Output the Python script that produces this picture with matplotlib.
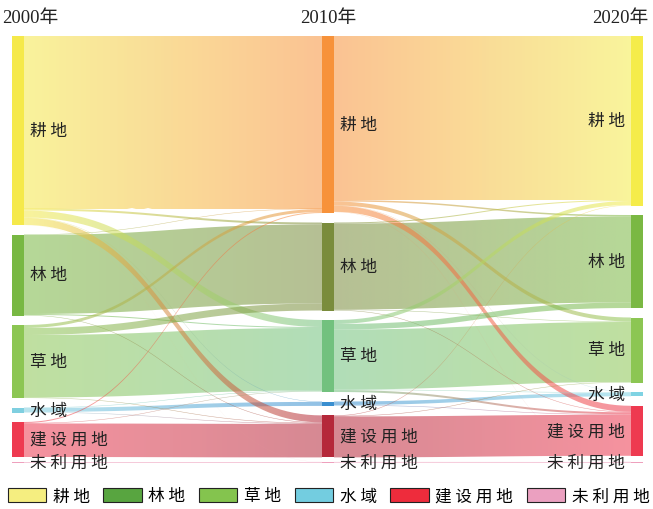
import numpy as np
import matplotlib
matplotlib.use("Agg")
import matplotlib.pyplot as plt
from matplotlib.patches import Polygon, Rectangle
from matplotlib.colors import to_rgb

plt.rcParams['font.family'] = ['Noto Sans CJK SC', 'DejaVu Sans']

years = ["2000年", "2010年", "2020年"]
categories = ["耕地", "林地", "草地", "水域", "建设用地", "未利用地"]

# flows[i][j]: from category i (earlier year) to category j (later year)
flows_2000_2010 = [
    [172.5, 2.0, 7.0, 0.4, 7.0, 0.1],
    [0.5, 79.0, 1.0, 0.0, 0.5, 0.0],
    [3.0, 7.0, 62.5, 0.0, 0.5, 0.0],
    [0.0, 0.0, 0.5, 4.0, 0.5, 0.0],
    [1.0, 0.0, 0.5, 0.0, 33.5, 0.0],
    [0.0, 0.0, 0.0, 0.0, 0.0, 1.0],
]
flows_2010_2020 = [
    [164.0, 1.5, 4.0, 0.3, 6.0, 0.2],
    [1.0, 86.0, 0.5, 0.0, 0.5, 0.0],
    [4.0, 5.5, 60.0, 0.5, 2.0, 0.0],
    [0.0, 0.0, 0.0, 3.5, 0.5, 0.0],
    [0.5, 0.0, 0.5, 0.0, 41.0, 0.0],
    [0.0, 0.0, 0.0, 0.0, 0.0, 1.0],
]

node_colors = [
    ["#f5e94a", "#78b843", "#8cc653", "#7fcfe0", "#ee3a50", "#eea0bd"],
    ["#f7923a", "#7a8c3c", "#72c17e", "#3a8fd0", "#b5283a", "#eea0bd"],
    ["#f5ec4a", "#7ab843", "#8cc653", "#7fd3e3", "#ee3a50", "#eea0bd"],
]
legend_colors = ["#f5ee80", "#58a540", "#84c44e", "#73cde0", "#ee2c3c", "#eba0c0"]

# layout constants (pixel-like axes units)
W, H = 653, 510
col_x = [12, 322, 631]
node_w = 12
top, bottom = 37, 464
gap = 9.5
link_alpha = 0.55

fig = plt.figure(figsize=(W / 100, H / 100), dpi=100)
ax = fig.add_axes([0, 0, 1, 1])
ax.set_xlim(0, W)
ax.set_ylim(H, 0)
ax.axis('off')

F1 = np.array(flows_2000_2010)
F2 = np.array(flows_2010_2020)
totals = [
    F1.sum(axis=1),
    np.maximum(F1.sum(axis=0), F2.sum(axis=1)),
    F2.sum(axis=0),
]

# node positions
node_y = []
for c in range(3):
    ys = []
    y = top
    n = len(categories)
    for i in range(n):
        h = totals[c][i]
        if i == n - 1:
            y = bottom - h
        ys.append((y, y + h))
        y += h + gap
    node_y.append(ys)


def bez(p0, p1, p2, p3, t):
    t = t[:, None]
    return ((1 - t) ** 3) * p0 + 3 * ((1 - t) ** 2) * t * p1 + 3 * (1 - t) * t * t * p2 + t ** 3 * p3


def draw_links(F, c):
    n = len(categories)
    x0 = col_x[c] + node_w
    x1 = col_x[c + 1]
    xm = (x0 + x1) / 2
    out_off = [node_y[c][i][0] for i in range(n)]
    in_off = [node_y[c + 1][j][0] for j in range(n)]
    segs = {}
    for i in range(n):
        for j in range(n):
            v = F[i][j]
            if v <= 0:
                continue
            segs[(i, j)] = [out_off[i], None]
            out_off[i] += v
    for j in range(n):
        for i in range(n):
            v = F[i][j]
            if v <= 0:
                continue
            segs[(i, j)][1] = in_off[j]
            in_off[j] += v
    order = [k for k in segs if k[0] == k[1]] + [k for k in segs if k[0] != k[1]]
    t = np.linspace(0, 1, 60)
    for (i, j) in order:
        v = F[i][j]
        sy, ty = segs[(i, j)]
        topc = bez(np.array([x0, sy]), np.array([xm, sy]), np.array([xm, ty]), np.array([x1, ty]), t)
        botc = bez(np.array([x0, sy + v]), np.array([xm, sy + v]), np.array([xm, ty + v]), np.array([x1, ty + v]), t)
        pts = np.vstack([topc, botc[::-1]])
        poly = Polygon(pts, closed=True, facecolor='none', edgecolor='none')
        ax.add_patch(poly)
        c0 = np.array(to_rgb(node_colors[c][i]))
        c1 = np.array(to_rgb(node_colors[c + 1][j]))
        s = np.linspace(0, 1, 128)[:, None]
        rgb = c0 * (1 - s) + c1 * s
        img = np.concatenate([rgb, np.full((128, 1), link_alpha)], axis=1)[None, :, :]
        ymin = pts[:, 1].min() - 1
        ymax = pts[:, 1].max() + 1
        im = ax.imshow(img, extent=[x0, x1, ymax, ymin], aspect='auto',
                       interpolation='bilinear', zorder=1)
        im.set_clip_path(poly)


draw_links(F1, 0)
draw_links(F2, 1)

# nodes
for c in range(3):
    for i in range(len(categories)):
        y0, y1 = node_y[c][i]
        ax.add_patch(Rectangle((col_x[c], y0), node_w, max(y1 - y0, 0.8),
                               facecolor=node_colors[c][i], edgecolor='none', zorder=3))

# node labels
def spaced(s):
    return " ".join(list(s))

for c in range(3):
    for i, name in enumerate(categories):
        y0, y1 = node_y[c][i]
        yc = (y0 + y1) / 2
        if c < 2:
            ax.text(col_x[c] + node_w + 6, yc, spaced(name), ha='left', va='center',
                    fontsize=12, color='#222222', zorder=4)
        else:
            ax.text(col_x[c] - 6, yc, spaced(name), ha='right', va='center',
                    fontsize=12, color='#222222', zorder=4)

# year labels
yfam = ['Liberation Serif', 'Noto Sans CJK SC']
ax.text(2, 19, years[0], ha='left', va='center', fontsize=13.5, family=yfam, color='#222222')
ax.text(col_x[1] + node_w / 2, 19, years[1], ha='center', va='center', fontsize=13.5, family=yfam, color='#222222')
ax.text(W - 5, 19, years[2], ha='right', va='center', fontsize=13.5, family=yfam, color='#222222')

# legend
handles = [Rectangle((0, 0), 1, 1, facecolor=legend_colors[i], edgecolor='#222222', linewidth=0.8)
           for i in range(len(categories))]
fig.legend(handles, [spaced(n) for n in categories], loc='center', bbox_to_anchor=(0.503, 1 - 497 / H),
           ncol=6, frameon=False, fontsize=12, handlelength=2.3, handleheight=0.9,
           columnspacing=0.82, handletextpad=0.4, borderaxespad=0, borderpad=0)

fig.savefig("out.png", dpi=100)
